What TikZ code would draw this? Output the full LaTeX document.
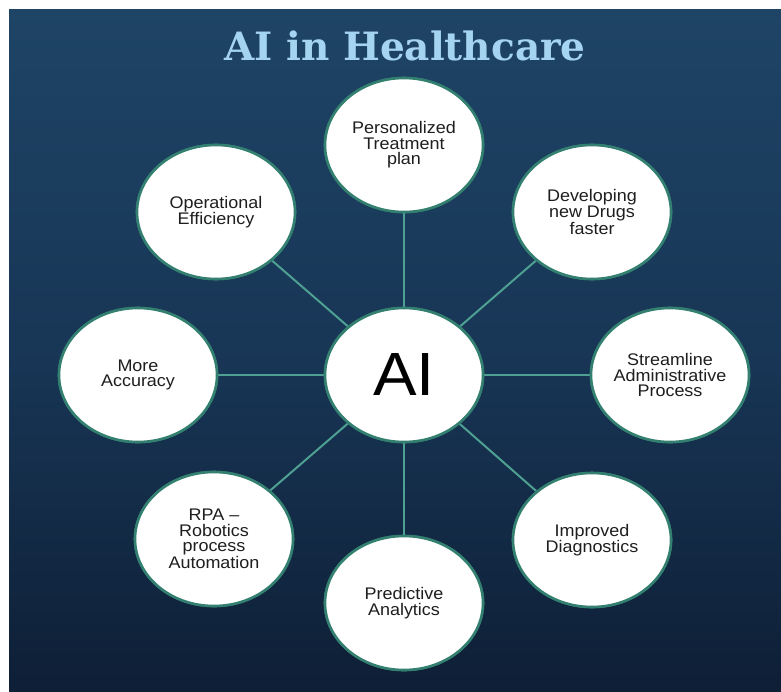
\documentclass[tikz,border=0pt]{standalone}
\usepackage{fontspec}
\usetikzlibrary{shapes.geometric}
\newfontfamily\labfont[FakeStretch=1.07]{Liberation Sans}
\newfontfamily\titlefont{DejaVu Serif}
\definecolor{bgtop}{RGB}{30,68,102}
\definecolor{bgmid}{RGB}{24,54,86}
\definecolor{bgbot}{RGB}{14,31,54}
\definecolor{titleblue}{RGB}{165,212,240}
\definecolor{spoke}{RGB}{78,160,146}
\definecolor{rim}{RGB}{52,128,112}
\definecolor{inktext}{RGB}{30,30,30}
\tikzset{
  bubble/.style={ellipse, minimum width=158pt, minimum height=134pt, inner sep=0pt,
    fill=white, draw=rim, line width=2.6pt},
  bubbletext/.style={align=center, text=inktext, inner sep=0pt,
    font=\labfont\fontsize{16.8}{15.4}\selectfont},
  spokeline/.style={draw=spoke, line width=2pt}
}
\begin{document}
\begin{tikzpicture}[x=1pt, y=-1pt]
  \useasboundingbox (0,0) rectangle (781,691);
  % backdrop
  \fill[white] (0,0) rectangle (781,691);
  \shade[top color=bgtop, bottom color=bgbot, middle color=bgmid] (9,9) rectangle (781,691);

  % title
  \node[text=titleblue, font=\titlefont\bfseries\fontsize{39}{44}\selectfont, anchor=base] (title) at (405,60) {AI in Healthcare};

  % hub and satellites
  \node[bubble] (ai) at (404,375) {};
  \node[bubble] (ptp) at (404,145) {};
  \node[bubble] (drug) at (592,212) {};
  \node[bubble] (adm) at (670,375) {};
  \node[bubble] (diag) at (592,540) {};
  \node[bubble] (pred) at (404,603) {};
  \node[bubble] (rpa) at (214,539) {};
  \node[bubble] (acc) at (138,375) {};
  \node[bubble] (ops) at (216,212) {};

  % spokes
  \foreach \n in {ptp,drug,adm,diag,pred,rpa,acc,ops}
    \draw[spokeline] (ai) -- (\n);

  % redraw bubbles on top of spokes
  \foreach \n/\p in {ai/{(404,375)},ptp/{(404,145)},drug/{(592,212)},adm/{(670,375)},diag/{(592,540)},pred/{(404,603)},rpa/{(214,539)},acc/{(138,375)},ops/{(216,212)}}
    \node[bubble] at \p {};

  % labels
  \node[text=black, inner sep=0pt, font=\labfont\fontsize{61}{61}\selectfont] (ailabel) at (ai) {AI};
  \node[bubbletext] (ptplabel) at (ptp) {Personalized\\Treatment\\plan};
  \node[bubbletext] (druglabel) at (drug) {Developing\\new Drugs\\faster};
  \node[bubbletext] (admlabel) at (adm) {Streamline\\Administrative\\Process};
  \node[bubbletext] (diaglabel) at (diag) {Improved\\Diagnostics};
  \node[bubbletext] (predlabel) at (pred) {Predictive\\Analytics};
  \node[bubbletext] (rpalabel) at (rpa) {RPA –\\Robotics\\process\\Automation};
  \node[bubbletext] (acclabel) at (acc) {More\\Accuracy};
  \node[bubbletext] (opslabel) at (ops) {Operational\\Efficiency};
\end{tikzpicture}
\end{document}
